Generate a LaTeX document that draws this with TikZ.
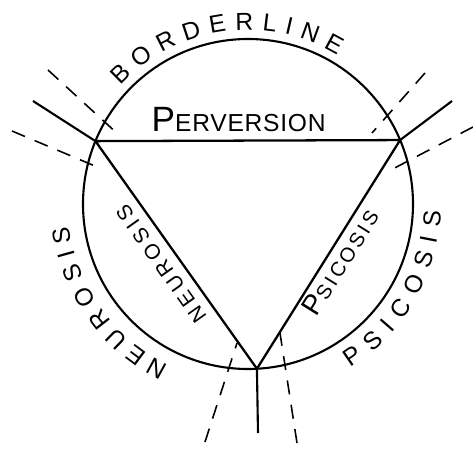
\documentclass[tikz,border=0pt]{standalone}
\usepackage{fontspec}
\newfontfamily\handfont{Liberation Sans}
\newfontfamily\wideperv[LetterSpace=3]{Liberation Sans}
\newfontfamily\wideneur[LetterSpace=20]{Liberation Sans}
\newfontfamily\widepsic[LetterSpace=15]{Liberation Sans}
\usetikzlibrary{calc, decorations.text}
\newcommand\outerfont{\handfont\fontsize{14}{14}\selectfont}
\tikzset{
  ring/.style      = {line width=1.2pt},
  side/.style      = {line width=1.3pt},
  spoke/.style     = {line width=1.2pt},
  limit/.style     = {line width=0.9pt, dash pattern=on 8pt off 6pt},
  lettering/.style = {decorate, decoration={text along path, text align={fit to path}, text={#1}}},
  chordlabel/.style = {inner sep=0pt, outer sep=0pt},
}

\begin{document}
\begin{tikzpicture}
    \useasboundingbox (-4.96,-4.90) rectangle (4.50,4.08);
    \coordinate (o) at (0,0);
    \coordinate (l) at (157.6:3.3);
    \coordinate (r) at (22.8:3.3);
    \coordinate (b) at (-86.9:3.3);
    \coordinate (lout) at (-4.30,2.06);
    \coordinate (rout) at (4.08,2.06);
    \coordinate (bout) at (0.20,-4.58);
    % dashed limits
    \coordinate (lu1) at (-4.00,2.68);  \coordinate (lu2) at (-2.56,1.36);
    \coordinate (ld1) at (-4.72,1.46);  \coordinate (ld2) at (-2.92,0.70);
    \coordinate (ru1) at (3.54,2.62);   \coordinate (ru2) at (2.48,1.42);
    \coordinate (rd1) at (4.50,1.54);   \coordinate (rd2) at (2.78,0.64);
    \coordinate (bl1) at (-0.86,-4.76); \coordinate (bl2) at (-0.22,-2.78);
    \coordinate (br1) at (0.98,-4.78);  \coordinate (br2) at (0.64,-2.58);

    \draw[ring] (o) circle[radius=3.3];
    \draw[side] (l) -- (r) -- (b) -- cycle;
    \draw[spoke] (l) -- (lout);
    \draw[spoke] (r) -- (rout);
    \draw[spoke] (b) -- (bout);
    \foreach \p in {lu,ld,ru,rd,bl,br}
        \draw[limit] (\p1) -- (\p2);

    % inner labels
    \path (l) -- (r) node[chordlabel, pos=.47, above=0.17cm] (perv)
        {\wideperv\fontsize{20}{20}\selectfont P\fontsize{14}{14}\selectfont ERVERSION};
    \path (b) -- (l) node[chordlabel, pos=.505, sloped, allow upside down, above=0.2cm] (neur)
        {\wideneur\fontsize{12}{12}\selectfont NEUROSIS};
    \path (b) -- (r) node[chordlabel, pos=.5, sloped, below=0.08cm] (psic)
        {\widepsic\fontsize{16}{16}\selectfont P\fontsize{11.5}{12}\selectfont SICOSIS};

    % outer labels
    \path[lettering={|\outerfont|BORDERLINE}] (137.2:3.48) arc[start angle=137.2, end angle=58.8, radius=3.48];
    \path[lettering={|\outerfont|NEUROSIS}] (244:3.6) arc[start angle=244, end angle=187, radius=3.6];
    \path[lettering={|\outerfont|PSICOSIS}] (-58:3.86) arc[start angle=-58, end angle=-2, radius=3.86];
\end{tikzpicture}
\end{document}
